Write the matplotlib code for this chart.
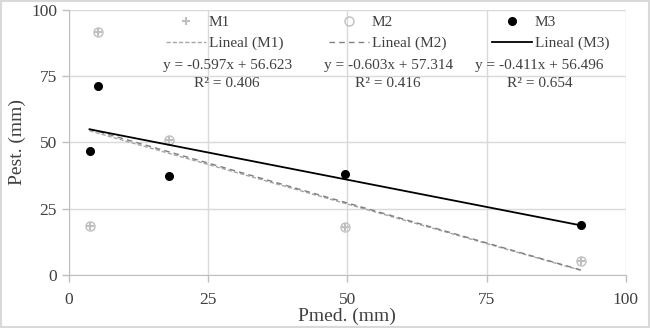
import matplotlib.pyplot as plt
import numpy as np

plt.rcParams['font.family'] = ['Liberation Serif', 'DejaVu Serif']

# Values
pmed = [3.7, 5.3, 17.9, 49.6, 91.9]
m1 = [18.5, 91.6, 50.9, 18.1, 5.4]
m2 = [18.5, 91.6, 50.9, 18.1, 5.4]
m3 = [46.6, 71.5, 37.5, 38.2, 19.0]

series_names = ['M1', 'M2', 'M3']
slopes = [-0.597, -0.603, -0.411]
intercepts = [56.623, 57.314, 56.496]
r2 = [0.406, 0.416, 0.654]

ticks = [0, 25, 50, 75, 100]

fig = plt.figure(figsize=(6.5, 3.28), dpi=100)
ax = fig.add_axes([0.106, 0.1616, 0.857, 0.808])

# frame around the whole figure
fig.patches.append(plt.Rectangle((0.002, 0.003), 0.996, 0.994, transform=fig.transFigure,
                                 fill=False, edgecolor='#D9D9D9', lw=1.5))

grid_c = '#D9D9D9'
txt_c = '#404040'
ax.set_xlim(0, 100)
ax.set_ylim(0, 100)
ax.set_xticks(ticks)
ax.set_yticks(ticks)
ax.grid(True, color=grid_c, lw=1)
for s in ['top', 'right']:
    ax.spines[s].set_visible(False)
for s in ['left', 'bottom']:
    ax.spines[s].set_color('#BFBFBF')
ax.tick_params(colors='#BFBFBF', labelcolor=txt_c, labelsize=12.5, length=5, width=1)
ax.tick_params(axis='x', pad=7)
ax.tick_params(axis='y', pad=3.5)

h1, = ax.plot(pmed, m1, '+', color='#BFBFBF', ms=6, mew=1.5, ls='none', label='M1')
h2, = ax.plot(pmed, m2, 'o', mfc='none', mec='#BFBFBF', ms=6.5, mew=1, ls='none', label='M2')
h3, = ax.plot(pmed, m3, 'o', color='black', ms=5.5, ls='none', label='M3')

xs = np.array([min(pmed), max(pmed)])
styles = [dict(color='#A6A6A6', ls=(0, (3, 1.5)), lw=1),
          dict(color='#808080', ls=(0, (4, 3)), lw=1),
          dict(color='black', ls='-', lw=1.3)]
lines = []
for name, a, b, st in zip(series_names, slopes, intercepts, styles):
    l, = ax.plot(xs, a * xs + b, label=f'Lineal ({name})', **st)
    lines.append(l)

leg = ax.legend([h1, lines[0], h2, lines[1], h3, lines[2]],
                ['M1', 'Lineal (M1)', 'M2', 'Lineal (M2)', 'M3', 'Lineal (M3)'],
                ncol=3, loc='upper center', bbox_to_anchor=(0.572, 1.03), frameon=False,
                fontsize=11, handlelength=2.6, columnspacing=3.0, handletextpad=0.2,
                labelspacing=0.45)
for t in leg.get_texts():
    t.set_color(txt_c)

# trendline equations
eq_x = [0.284, 0.573, 0.845]
for x, a, b, r in zip(eq_x, slopes, intercepts, r2):
    ax.text(x, 0.79, f'y = {a:.3f}x + {b:.3f}', transform=ax.transAxes,
            ha='center', va='center', fontsize=11, color=txt_c)
    ax.text(x, 0.722, f'R² = {r:.3f}', transform=ax.transAxes,
            ha='center', va='center', fontsize=11, color=txt_c)

ax.set_xlabel('Pmed. (mm)', fontsize=14, color=txt_c, labelpad=0)
ax.set_ylabel('Pest. (mm)', fontsize=14, color=txt_c, labelpad=4)

fig.savefig('out.png', dpi=100)
